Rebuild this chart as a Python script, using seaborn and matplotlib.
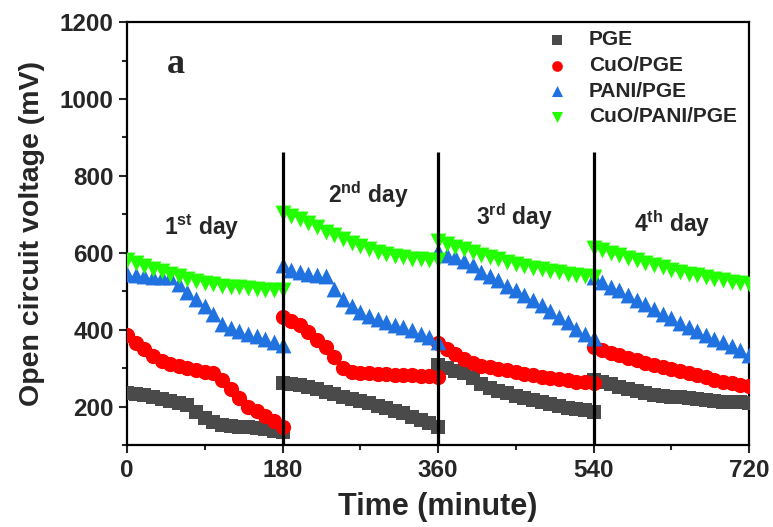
import numpy as np
import pandas as pd
import matplotlib
matplotlib.use("Agg")
import matplotlib.pyplot as plt
import seaborn as sns
from matplotlib.ticker import MultipleLocator

# ---------------- data ----------------
t_day1 = [0, 10, 20, 30, 40, 50, 60, 70, 80, 90, 100, 110, 120, 130, 140, 150, 160, 170, 180]
t_day2 = [180, 190, 200, 210, 220, 230, 240, 250, 260, 270, 280, 290, 300, 310, 320, 330, 340, 350, 360]
t_day3 = [360, 370, 380, 390, 400, 410, 420, 430, 440, 450, 460, 470, 480, 490, 500, 510, 520, 530, 540]
t_day4 = [540, 550, 560, 570, 580, 590, 600, 610, 620, 630, 640, 650, 660, 670, 680, 690, 700, 710, 720]

pge_d1 = [236, 233, 229, 224, 219, 214, 209, 203, 185, 170, 160, 152, 149, 147, 146, 144, 141, 137, 133]
pge_d2 = [262, 258, 255, 251, 246, 239, 232, 226, 220, 214, 208, 201, 196, 189, 182, 174, 166, 157, 148]
pge_d3 = [308, 300, 292, 286, 275, 259, 249, 241, 234, 227, 221, 216, 211, 206, 201, 197, 193, 190, 187]
pge_d4 = [270, 265, 258, 250, 245, 240, 235, 231, 228, 226, 224, 222, 220, 217, 215, 213, 212, 211, 210]

cuo_d1 = [386, 365, 350, 331, 319, 311, 305, 300, 295, 291, 286, 270, 245, 222, 200, 188, 176, 162, 148]
cuo_d2 = [433, 422, 412, 394, 373, 355, 330, 300, 290, 288, 286, 285, 284, 283, 282, 281, 280, 279, 278]
cuo_d3 = [365, 350, 336, 325, 314, 306, 302, 298, 294, 289, 285, 282, 278, 275, 271, 268, 265, 263, 262]
cuo_d4 = [355, 348, 340, 334, 327, 320, 314, 308, 303, 298, 293, 288, 282, 276, 270, 265, 261, 257, 254]

pani_d1 = [546, 542, 540, 538, 537, 536, 520, 497, 480, 461, 440, 415, 405, 396, 389, 384, 376, 368, 360]
pani_d2 = [567, 555, 549, 545, 543, 540, 506, 480, 462, 447, 435, 427, 420, 413, 406, 399, 390, 380, 368]
pani_d3 = [605, 595, 588, 578, 568, 551, 540, 529, 514, 502, 490, 478, 464, 449, 434, 419, 403, 388, 378]
pani_d4 = [536, 525, 512, 502, 489, 477, 466, 455, 442, 430, 418, 407, 396, 386, 377, 368, 358, 346, 334]

cpp_d1 = [580, 573, 566, 559, 552, 546, 540, 533, 527, 522, 518, 514, 512, 510, 508, 506, 504, 503, 502]
cpp_d2 = [704, 695, 687, 678, 668, 655, 645, 635, 625, 617, 609, 601, 596, 592, 588, 585, 583, 581, 580]
cpp_d3 = [631, 622, 615, 609, 601, 595, 589, 583, 576, 570, 565, 561, 557, 553, 550, 546, 542, 539, 536]
cpp_d4 = [613, 606, 600, 593, 587, 580, 574, 567, 562, 556, 551, 546, 542, 537, 532, 528, 525, 522, 520]

series_names = ["PGE", "CuO/PGE", "PANI/PGE", "CuO/PANI/PGE"]
day_labels = [r"1$^{\rm st}$ day", r"2$^{\rm nd}$ day", r"3$^{\rm rd}$ day", r"4$^{\rm th}$ day"]
day_label_x = [87, 279, 449, 631]
day_label_y = [667, 750, 693, 675]
day_boundaries = [180, 360, 540]
x_ticks = [0, 180, 360, 540, 720]
y_ticks = [200, 400, 600, 800, 1000, 1200]

# ---------------- build table ----------------
times = t_day1 + t_day2 + t_day3 + t_day4
values = {
    "PGE": pge_d1 + pge_d2 + pge_d3 + pge_d4,
    "CuO/PGE": cuo_d1 + cuo_d2 + cuo_d3 + cuo_d4,
    "PANI/PGE": pani_d1 + pani_d2 + pani_d3 + pani_d4,
    "CuO/PANI/PGE": cpp_d1 + cpp_d2 + cpp_d3 + cpp_d4,
}
rows = []
for name in series_names:
    for t, v in zip(times, values[name]):
        rows.append({"Time": t, "OCV": v, "Electrode": name})
df = pd.DataFrame(rows)

# ---------------- style ----------------
sns.set_theme(style="ticks")
plt.rcParams["font.family"] = ["Liberation Sans", "DejaVu Sans"]
plt.rcParams["font.weight"] = "bold"
plt.rcParams["mathtext.fontset"] = "custom"
plt.rcParams["mathtext.rm"] = "Liberation Sans:bold"
plt.rcParams["mathtext.bf"] = "Liberation Sans:bold"
plt.rcParams["mathtext.it"] = "Liberation Sans:bold"

palette = {"PGE": "#4a4a4a", "CuO/PGE": "#ff0000", "PANI/PGE": "#1f72e0", "CuO/PANI/PGE": "#22ff00"}
markers = {"PGE": "s", "CuO/PGE": "o", "PANI/PGE": "^", "CuO/PANI/PGE": "v"}
sizes = {"PGE": 95, "CuO/PGE": 120, "PANI/PGE": 130, "CuO/PANI/PGE": 130}

fig = plt.figure(figsize=(7.73, 5.27), dpi=100)
ax = fig.add_axes([0.1643, 0.1556, 0.969 - 0.1643, 0.958 - 0.1556])

for name in series_names:
    sub = df[df["Electrode"] == name]
    sns.scatterplot(data=sub, x="Time", y="OCV", color=palette[name], marker=markers[name],
                    s=sizes[name], linewidth=0, ax=ax, label=name, zorder=3)

for xb in day_boundaries:
    ax.plot([xb, xb], [100, 862], color="black", lw=2.3, zorder=4, solid_capstyle="butt")

ax.set_xlim(0, 720)
ax.set_ylim(100, 1200)
ax.set_xticks(x_ticks)
ax.set_yticks(y_ticks)
ax.xaxis.set_minor_locator(MultipleLocator(90))
ax.yaxis.set_minor_locator(MultipleLocator(100))
ax.tick_params(axis="both", which="major", direction="out", length=6, width=1.5, labelsize=17.5)
ax.tick_params(axis="both", which="minor", direction="out", length=3.5, width=1.5)
ax.tick_params(axis="x", which="major", pad=4)
for lab in ax.get_xticklabels() + ax.get_yticklabels():
    lab.set_fontweight("bold")
for sp in ax.spines.values():
    sp.set_linewidth(1.6)
    sp.set_color("black")

ax.set_xlabel("Time (minute)", fontsize=22, fontweight="bold", labelpad=7)
ax.set_ylabel("Open circuit voltage (mV)", fontsize=20.5, fontweight="bold", labelpad=11)

for lbl, lx, ly in zip(day_labels, day_label_x, day_label_y):
    ax.text(lx, ly, lbl, fontsize=16.5, fontweight="bold", ha="center", va="center")

ax.text(0.078, 0.9, "a", transform=ax.transAxes, fontsize=26, fontweight="bold",
        family="Liberation Serif", ha="center", va="center")

leg = ax.legend(loc="upper right", bbox_to_anchor=(1.0, 1.01), frameon=False,
                prop={"size": 15, "weight": "bold"}, handletextpad=0.5,
                labelspacing=0.32, markerscale=0.7, borderaxespad=0.2)

fig.savefig("out.png", dpi=100)
